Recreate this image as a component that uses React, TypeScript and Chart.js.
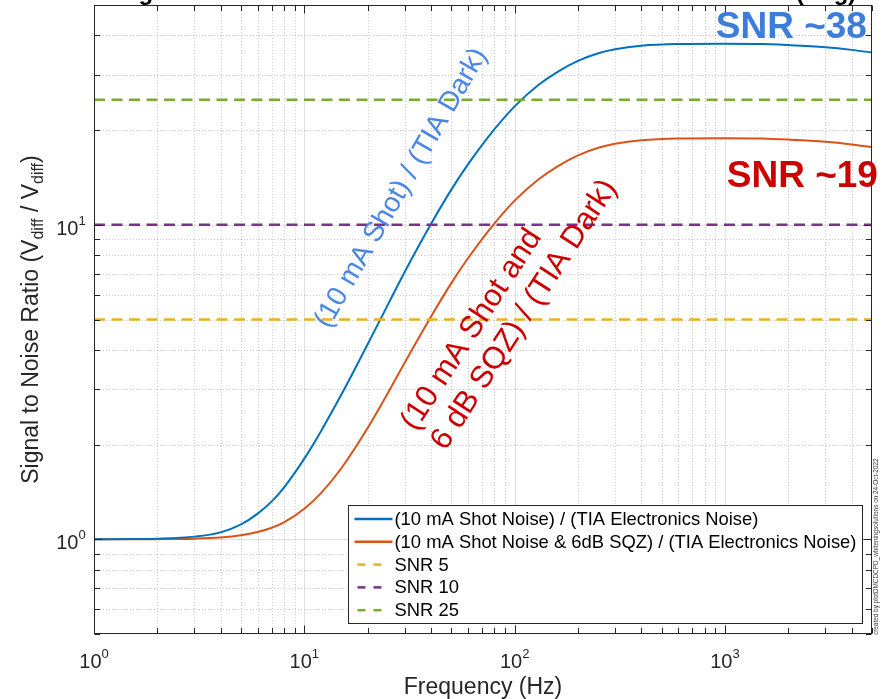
import React, { useEffect, useRef } from 'react';
import { Chart, registerables } from 'chart.js';

Chart.register(...registerables);

const FONT = '"Liberation Sans", Arial, Helvetica, sans-serif';

// ---- data ----
const frequencyHz = [1, 1.5, 2, 3, 4, 5, 6, 7, 8, 10, 12, 15, 20, 25, 30, 40, 50, 60, 80, 100, 130, 160, 200, 250, 300, 400, 600, 1000, 1500, 2000, 3000, 4000, 5000];
const shotOverTia = [1.0, 1.002, 1.005, 1.02, 1.052, 1.115, 1.207, 1.32, 1.461, 1.806, 2.208, 2.886, 4.17, 5.585, 7.08, 10.06, 12.94, 15.56, 20.1, 23.81, 27.87, 30.66, 33.22, 35.13, 36.17, 37.13, 37.59, 37.67, 37.6, 37.3, 36.7, 36.0, 35.3];
const shotSqzOverTia = [1.0, 1.0005, 1.0013, 1.005, 1.0133, 1.03, 1.0556, 1.0889, 1.133, 1.2512, 1.4031, 1.683, 2.258, 2.924, 3.645, 5.104, 6.527, 7.828, 10.087, 11.94, 13.96, 15.35, 16.63, 17.59, 18.1, 18.58, 18.82, 18.86, 18.82, 18.67, 18.37, 18.02, 17.67];
const snrLevels = [5, 10, 25];
const seriesLabels = [
  '(10 mA Shot Noise) / (TIA Electronics Noise)',
  '(10 mA Shot Noise & 6dB SQZ) / (TIA Electronics Noise)',
];
const levelLabels = ['SNR 5', 'SNR 10', 'SNR 25'];
const xRange = [1, 5000];
const yRange = [0.5, 50];
const xTickValues = [1, 2, 3, 4, 5, 6, 7, 8, 9, 10, 20, 30, 40, 50, 60, 70, 80, 90, 100, 200, 300, 400, 500, 600, 700, 800, 900, 1000, 2000, 3000, 4000, 5000];
const yTickValues = [0.5, 0.6, 0.7, 0.8, 0.9, 1, 2, 3, 4, 5, 6, 7, 8, 9, 10, 20, 30, 40, 50];
const xTickExponents = [0, 1, 2, 3];
const yTickExponents = [0, 1];

const seriesColors = ['#0072BD', '#D95319'];
const levelColors = ['#EDB120', '#7E2F8E', '#77AC30'];
const AXIS = '#262626';

const isMajor = (v: number) => Math.abs(Math.log10(v) - Math.round(Math.log10(v))) < 1e-9;

const matlabAxes = {
  id: 'matlabAxes',
  beforeDatasetsDraw(chart: any) {
    const { ctx, chartArea: a, scales } = chart;
    const x = scales.x, y = scales.y;
    ctx.save();
    ctx.lineWidth = 1;
    for (const v of xTickValues) {
      const px = Math.round(x.getPixelForValue(v)) + 0.5;
      if (px <= a.left + 1 || px >= a.right - 1) continue;
      if (isMajor(v)) { ctx.setLineDash([]); ctx.strokeStyle = 'rgba(0,0,0,0.12)'; }
      else { ctx.setLineDash([1, 2]); ctx.strokeStyle = 'rgba(0,0,0,0.2)'; }
      ctx.beginPath(); ctx.moveTo(px, a.top); ctx.lineTo(px, a.bottom); ctx.stroke();
    }
    for (const v of yTickValues) {
      const py = Math.round(y.getPixelForValue(v)) + 0.5;
      if (py <= a.top + 1 || py >= a.bottom - 1) continue;
      if (isMajor(v)) { ctx.setLineDash([]); ctx.strokeStyle = 'rgba(0,0,0,0.12)'; }
      else { ctx.setLineDash([1, 2]); ctx.strokeStyle = 'rgba(0,0,0,0.2)'; }
      ctx.beginPath(); ctx.moveTo(a.left, py); ctx.lineTo(a.right, py); ctx.stroke();
    }
    ctx.restore();
  },
  afterDatasetsDraw(chart: any) {
    const { ctx, chartArea: a, scales } = chart;
    const x = scales.x, y = scales.y;
    ctx.save();
    ctx.setLineDash([]);
    ctx.strokeStyle = AXIS;
    ctx.lineWidth = 1;
    const L = Math.round(a.left) + 0.5, R = Math.round(a.right) - 0.5;
    const T = Math.round(a.top) + 0.5, B = Math.round(a.bottom) - 0.5;
    ctx.strokeRect(L, T, R - L, B - T);
    ctx.beginPath();
    for (const v of xTickValues) {
      const px = Math.round(x.getPixelForValue(v)) + 0.5;
      const len = isMajor(v) ? 8 : 5.5;
      ctx.moveTo(px, B); ctx.lineTo(px, B - len);
      ctx.moveTo(px, T); ctx.lineTo(px, T + len);
    }
    for (const v of yTickValues) {
      const py = Math.round(y.getPixelForValue(v)) + 0.5;
      const len = isMajor(v) ? 8 : 5.5;
      ctx.moveTo(L, py); ctx.lineTo(L + len, py);
      ctx.moveTo(R, py); ctx.lineTo(R - len, py);
    }
    ctx.stroke();

    // annotations anchored in data coordinates
    const blueX = x.getPixelForValue(28.9), blueY = y.getPixelForValue(13.1);
    ctx.save();
    ctx.translate(blueX, blueY);
    ctx.rotate(-60 * Math.PI / 180);
    ctx.fillStyle = '#4a86e8';
    ctx.font = `28px ${FONT}`;
    ctx.textAlign = 'center';
    ctx.textBaseline = 'middle';
    ctx.fillText('(10 mA Shot) / (TIA Dark)', 0, 0);
    ctx.restore();

    const redX = x.getPixelForValue(31.2), redY = y.getPixelForValue(2.27);
    ctx.save();
    ctx.translate(redX, redY);
    ctx.rotate(-57 * Math.PI / 180);
    ctx.fillStyle = '#cc0000';
    ctx.font = `31px ${FONT}`;
    ctx.textAlign = 'left';
    ctx.textBaseline = 'middle';
    ctx.fillText('(10 mA Shot and', 0, 0);
    ctx.fillText('6 dB SQZ) / (TIA Dark)', 0, 36);
    ctx.restore();
    ctx.restore();
  },
  afterDraw(chart: any) {
    const { ctx, chartArea: a, scales } = chart;
    const x = scales.x, y = scales.y;
    ctx.save();

    // big SNR labels
    ctx.font = `bold 37px ${FONT}`;
    ctx.textAlign = 'right';
    ctx.textBaseline = 'alphabetic';
    ctx.fillStyle = '#3c7ddb';
    ctx.fillText('SNR ~38', x.getPixelForValue(4730), y.getPixelForValue(39.4));
    ctx.fillStyle = '#cc0000';
    ctx.fillText('SNR ~19', x.getPixelForValue(5336), y.getPixelForValue(13.2));

    // tick labels with superscripts
    ctx.fillStyle = AXIS;
    ctx.textAlign = 'left';
    const base = `20px ${FONT}`, sup = `13px ${FONT}`;
    for (const e of xTickExponents) {
      const px = x.getPixelForValue(Math.pow(10, e));
      ctx.font = base; const w1 = ctx.measureText('10').width;
      ctx.font = sup; const w2 = ctx.measureText(String(e)).width;
      const sx = px - (w1 + w2) / 2;
      ctx.font = base; ctx.fillText('10', sx, a.bottom + 33.7);
      ctx.font = sup; ctx.fillText(String(e), sx + w1, a.bottom + 23.7);
    }
    for (const e of yTickExponents) {
      const py = y.getPixelForValue(Math.pow(10, e));
      ctx.font = base; const w1 = ctx.measureText('10').width;
      ctx.font = sup; const w2 = ctx.measureText(String(e)).width;
      const sx = a.left - 8.3 - (w1 + w2);
      ctx.font = base; ctx.fillText('10', sx, py + 9.7);
      ctx.font = sup; ctx.fillText(String(e), sx + w1, py - 0.3);
    }

    // x axis label
    ctx.font = `23px ${FONT}`;
    ctx.textAlign = 'center';
    ctx.fillText('Frequency (Hz)', (a.left + a.right) / 2, a.bottom + 60);

    // y axis label with subscripts
    const segs: [string, boolean][] = [['Signal to Noise Ratio (V', false], ['diff', true], [' / V', false], ['diff', true], [')', false]];
    const mainF = `23px ${FONT}`, subF = `16px ${FONT}`;
    let total = 0;
    const widths = segs.map(([t, s]) => { ctx.font = s ? subF : mainF; const w = ctx.measureText(t).width; total += w; return w; });
    ctx.save();
    ctx.translate(38, (a.top + a.bottom) / 2);
    ctx.rotate(-Math.PI / 2);
    ctx.textAlign = 'left';
    let u = -total / 2;
    segs.forEach(([t, s], i) => {
      ctx.font = s ? subF : mainF;
      ctx.fillText(t, u, s ? 5 : 0);
      u += widths[i];
    });
    ctx.restore();

    // clipped title at the very top (only its bottom edge shows)
    ctx.font = `bold 24px ${FONT}`;
    ctx.fillStyle = '#000';
    ctx.textAlign = 'center';
    ctx.fillText('Signal to Noise Ratio: Shot Noise vs. TIA Electronics Noise (Avg)', (a.left + a.right) / 2 + 3, -0.5);

    // creator stamp
    ctx.save();
    ctx.translate(877.5, a.bottom + 1);
    ctx.rotate(-Math.PI / 2);
    ctx.font = `6.4px ${FONT}`;
    ctx.fillStyle = '#333';
    ctx.textAlign = 'left';
    ctx.fillText('created by plotDMCDCPD_whiteningsolutions on 24-Oct-2022', 0, 0);
    ctx.restore();

    // legend (inside, bottom right)
    const ds = chart.data.datasets;
    const legendFont = `18.4px ${FONT}`;
    ctx.font = legendFont;
    const textW = Math.max(...ds.map((d: any) => ctx.measureText(d.label).width));
    const rowH = 22.8;
    const boxW = 46 + textW + 7;
    const boxH = rowH * ds.length + 5;
    const right = Math.round(a.right - 10) + 0.5;
    const bottom = Math.round(a.bottom - 11) + 0.5;
    const left = Math.round(right - boxW) + 0.5;
    const top = Math.round(bottom - boxH) + 0.5;
    ctx.fillStyle = '#fff';
    ctx.fillRect(left, top, right - left, bottom - top);
    ctx.strokeStyle = AXIS;
    ctx.lineWidth = 1;
    ctx.setLineDash([]);
    ctx.strokeRect(left, top, right - left, bottom - top);
    ds.forEach((d: any, i: number) => {
      const cy = top + 13.5 + i * rowH;
      ctx.strokeStyle = d.borderColor;
      ctx.lineWidth = 2.5;
      ctx.beginPath();
      if (d.borderDash && d.borderDash.length) {
        ctx.setLineDash([8, 8]);
        ctx.moveTo(left + 9, cy); ctx.lineTo(left + 34, cy);
      } else {
        ctx.setLineDash([]);
        ctx.moveTo(left + 6, cy); ctx.lineTo(left + 44, cy);
      }
      ctx.stroke();
      ctx.setLineDash([]);
      ctx.fillStyle = '#000';
      ctx.textAlign = 'left';
      ctx.textBaseline = 'middle';
      ctx.font = legendFont;
      ctx.fillText(d.label, left + 46, cy + 1);
    });
    ctx.restore();
  },
};

export default function App() {
  const ref = useRef<HTMLCanvasElement | null>(null);
  useEffect(() => {
    if (!ref.current) return;
    const datasets: any[] = [
      {
        label: seriesLabels[0],
        data: frequencyHz.map((f, i) => ({ x: f, y: shotOverTia[i] })),
        borderColor: seriesColors[0],
        borderWidth: 2,
        pointRadius: 0,
        cubicInterpolationMode: 'monotone',
        fill: false,
        order: 2,
      },
      {
        label: seriesLabels[1],
        data: frequencyHz.map((f, i) => ({ x: f, y: shotSqzOverTia[i] })),
        borderColor: seriesColors[1],
        borderWidth: 2,
        pointRadius: 0,
        cubicInterpolationMode: 'monotone',
        fill: false,
        order: 2,
      },
      ...snrLevels.map((lv, i) => ({
        label: levelLabels[i],
        data: xRange.map((f) => ({ x: f, y: lv })),
        borderColor: levelColors[i],
        borderWidth: 2.5,
        borderDash: [11, 6.5],
        pointRadius: 0,
        fill: false,
        order: 1,
      })),
    ];
    const chart = new Chart(ref.current, {
      type: 'line',
      data: { datasets },
      options: {
        animation: false,
        responsive: false,
        devicePixelRatio: 1,
        events: [],
        layout: { padding: { left: 94, top: 5, right: 23, bottom: 65 } },
        scales: {
          x: { type: 'logarithmic', min: xRange[0], max: xRange[1], display: false },
          y: { type: 'logarithmic', min: yRange[0], max: yRange[1], display: false },
        },
        plugins: {
          legend: { display: false },
          tooltip: { enabled: false },
          title: { display: false },
        },
      } as any,
      plugins: [matlabAxes],
    });
    return () => chart.destroy();
  }, []);
  return (
    <div style={{ position: 'absolute', left: 0, top: 0, width: 895, height: 699, background: '#fff' }}>
      <canvas ref={ref} width={895} height={699} style={{ display: 'block' }} />
    </div>
  );
}
